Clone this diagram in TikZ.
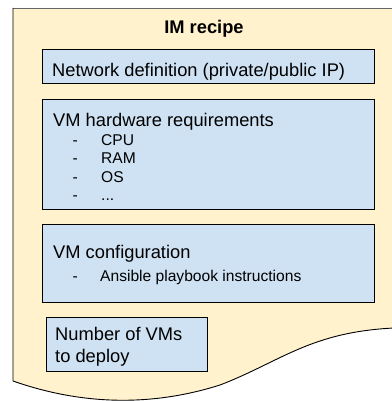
\documentclass[tikz,border=0pt]{standalone}
\usepackage{fontspec}
\setmainfont{Liberation Sans}
\definecolor{docfill}{HTML}{FFF2CC}
\definecolor{boxfill}{HTML}{CFE2F3}
\tikzset{
  box/.style={draw=black, line width=1pt, fill=boxfill, inner sep=0pt, anchor=north west},
  big/.style={inner sep=0pt, anchor=base west, font=\fontsize{18.3}{22}\selectfont},
  small/.style={inner sep=0pt, anchor=base west, font=\fontsize{15.6}{18}\selectfont},
  edge/.style={draw=black, line width=0.9pt},
}
\begin{document}
\begin{tikzpicture}[x=1pt, y=-1pt]
\useasboundingbox (0,0) rectangle (391,401);
% document shape
\coordinate (tl) at (13,8);
\coordinate (tr) at (394,8);
\coordinate (br) at (394,328);
\coordinate (bl) at (13,381);
\fill[docfill] (tl) -- (tr) -- (br) .. controls (310,332) and (280,362) .. (220,385)
  .. controls (160,404) and (90,408) .. (bl) -- cycle;
\draw[edge, draw=black!60] (tl) -- (tr);
\draw[edge] (tl) -- (bl) .. controls (90,408) and (160,404) .. (220,385)
  .. controls (280,362) and (310,332) .. (br);
% title
\node[inner sep=0pt, anchor=base, font=\fontsize{18.3}{22}\selectfont\bfseries] (title) at (204,34) {IM recipe};
% boxes
\node[box, minimum width=332pt, minimum height=34pt] (net) at (42,49) {};
\node[box, minimum width=332pt, minimum height=110pt] (hw) at (42,99) {};
\node[box, minimum width=332pt, minimum height=78pt] (cfg) at (42,224) {};
\node[box, minimum width=161pt, minimum height=54pt] (num) at (46,317) {};
% texts
\node[big] (nettxt) at (52,77) {Network definition (private/public IP)};
\node[big] (hwtxt) at (53,126) {VM hardware requirements};
\node[small] (d1) at (72.5,145) {-};
\node[small] (d2) at (72.5,163) {-};
\node[small] (d3) at (72.5,182) {-};
\node[small] (d4) at (72.5,200) {-};
\node[small] (i1) at (101,145) {CPU};
\node[small] (i2) at (101,163) {RAM};
\node[small] (i3) at (101,182) {OS};
\node[small] (i4) at (101,200) {...};
\node[big] (cfgtxt) at (53,258) {VM configuration};
\node[small] (d5) at (72.5,281) {-};
\node[small] (i5) at (100,281) {Ansible playbook instructions};
\node[big] (num1) at (55,340) {Number of VMs};
\node[big] (num2) at (55,362) {to deploy};
\end{tikzpicture}
\end{document}
